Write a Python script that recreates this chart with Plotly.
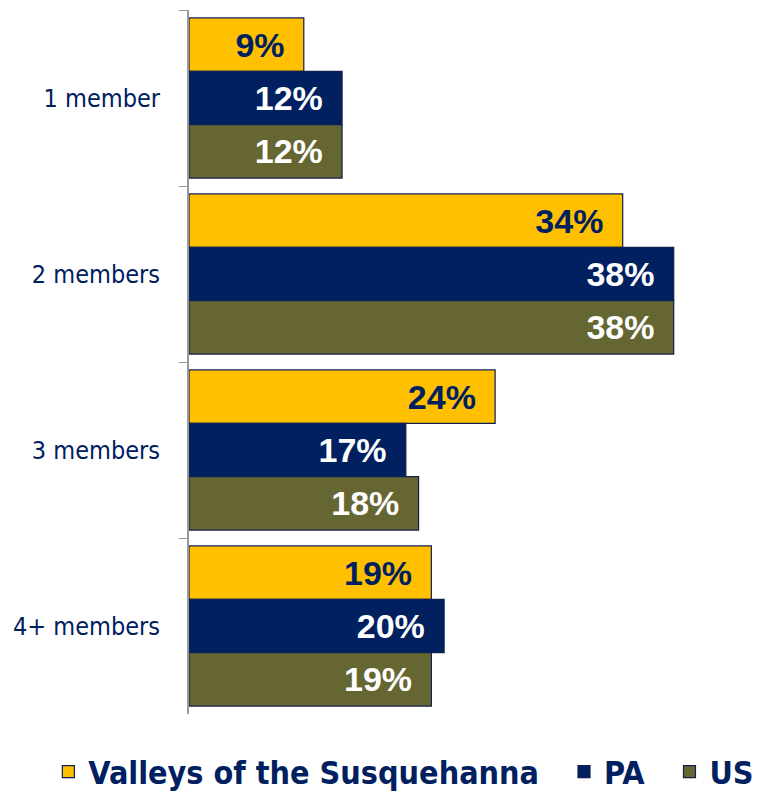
import plotly.graph_objects as go

categories = ["1 member", "2 members", "3 members", "4+ members"]
series_names = ["Valleys of the Susquehanna", "PA", "US"]
valleys = [9, 34, 24, 19]
pa = [12, 38, 17, 20]
us = [12, 38, 18, 19]

colors = ["#FFC000", "#002060", "#666633"]
text_colors = ["#002060", "white", "white"]
narrow = "DejaVu Sans Condensed, Liberation Sans Narrow, Arial Narrow, sans-serif"

fig = go.Figure()
for i, (name, vals, col, tcol) in enumerate(zip(series_names, [valleys, pa, us], colors, text_colors)):
    pad = "\u00a0\u00a0" if i < 2 else ""  # spacing between legend items
    fig.add_trace(go.Bar(
        y=categories, x=vals, name=name + pad, orientation="h",
        marker=dict(color=col, line=dict(color="#0F1F4F", width=1.2)),
        text=[f"{v}%" for v in vals], textposition="inside", insidetextanchor="end",
        textfont=dict(family="Liberation Sans, Arial", size=34, color=tcol),
        texttemplate="<b>%{text}</b>\u00a0\u2009", cliponaxis=False,
    ))

# page has an 8px body margin, so the figure is 8px smaller than the window
fig.update_layout(
    width=761, height=786,
    barmode="group", bargap=0.09, bargroupgap=0,
    plot_bgcolor="white", paper_bgcolor="white",
    margin=dict(l=181, r=6, t=2, b=80, autoexpand=False),
    showlegend=True,
    legend=dict(orientation="h", x=-0.245, xanchor="left", y=-0.043, yanchor="top",
                font=dict(family=narrow, size=32, color="#002060", weight="bold"),
                traceorder="normal"),
    uniformtext=dict(minsize=10, mode="show"),
)
fig.update_xaxes(range=[0, 45], visible=False)
fig.update_yaxes(autorange="reversed", tickson="boundaries", ticks="outside", ticklen=8,
                 tickcolor="#999999", showline=True, linecolor="#999999", linewidth=2,
                 tickfont=dict(family=narrow, size=25, color="#002060"),
                 ticklabelstandoff=22, automargin=False)

fig.write_html("out.html")
